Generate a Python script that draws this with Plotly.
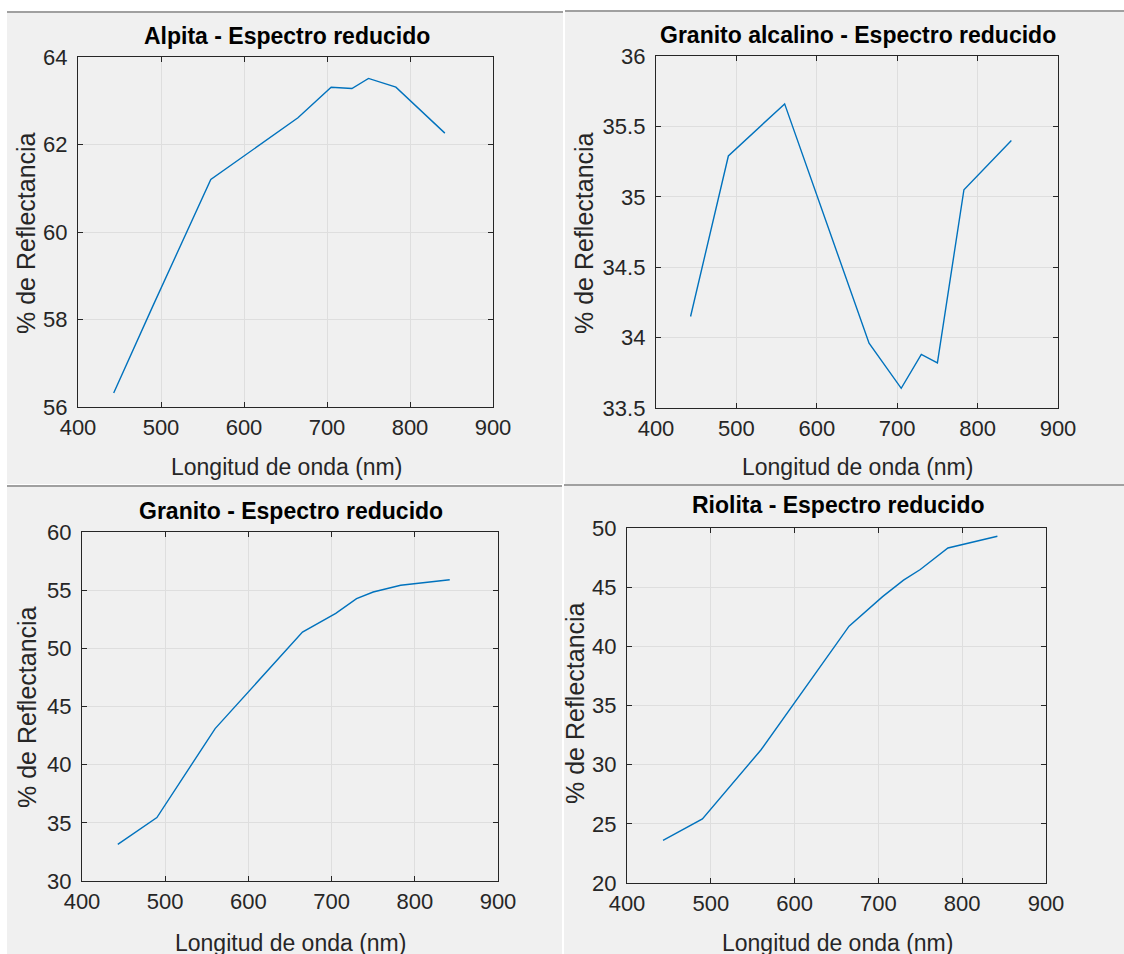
import plotly.graph_objects as go

W, H = 1124, 954
OFF = 0  # body margin is removed by the post script below

# ---- data ----
wavelength = [443, 490, 560, 665, 705, 730, 750, 783, 842]
alpita = [56.32, 58.3, 61.2, 62.61, 63.31, 63.28, 63.51, 63.31, 62.26]
granito_alcalino = [34.15, 35.29, 35.66, 33.96, 33.64, 33.88, 33.82, 35.05, 35.40]
granito = [33.15, 35.45, 43.1, 51.4, 53.0, 54.27, 54.84, 55.42, 55.9]
riolita = [23.6, 25.41, 31.26, 41.71, 44.2, 45.59, 46.49, 48.31, 49.3]

titles = ["Alpita - Espectro reducido", "Granito alcalino - Espectro reducido",
          "Granito - Espectro reducido", "Riolita - Espectro reducido"]
xlabel = "Longitud de onda (nm)"
ylabel = "% de Reflectancia"
x_ticks = [400, 500, 600, 700, 800, 900]
y_ticks = [
    [56, 58, 60, 62, 64],
    [33.5, 34, 34.5, 35, 35.5, 36],
    [30, 35, 40, 45, 50, 55, 60],
    [20, 25, 30, 35, 40, 45, 50],
]
series = [alpita, granito_alcalino, granito, riolita]

# ---- layout geometry (pixels in the window) ----
plot_boxes = [  # left, right, top, bottom
    (78, 493, 57, 407),
    (656, 1058, 56, 408),
    (82, 498, 532, 881),
    (627, 1046, 528, 883),
]
panels = [  # x0, x1, y0, y1
    (7, 563, 12, 484),
    (565, 1124, 11, 485),
    (7, 562, 486, 954),
    (564, 1124, 485, 954),
]
title_pos = [(287, 36), (858, 35), (291, 511), (838, 505)]
xlab_pos = [(286, 467), (857, 467), (290, 943), (837, 943)]
ylab_pos = [(26, 233), (584, 233), (27, 707), (575, 703)]

def px(x):
    return (x - OFF) / W

def py(y):
    return 1 - (y - OFF) / H

fig = go.Figure()
FONT = "Liberation Sans, Arial, sans-serif"
AX = "#262626"

shapes = []
for (x0, x1, y0, y1) in panels:
    shapes.append(dict(type="rect", xref="paper", yref="paper",
                       x0=px(x0), x1=px(x1), y0=py(y1), y1=py(y0),
                       fillcolor="#f0f0f0", line=dict(width=0), layer="below"))
    shapes.append(dict(type="line", xref="paper", yref="paper",
                       x0=px(x0), x1=px(x1), y0=py(y0), y1=py(y0),
                       line=dict(color="#a0a0a0", width=2), layer="below"))

annotations = []
layout_axes = {}
for i in range(4):
    n = "" if i == 0 else str(i + 1)
    l, r, t, b = plot_boxes[i]
    fig.add_trace(go.Scatter(x=wavelength, y=series[i], mode="lines",
                             line=dict(color="#0072BD", width=1.4),
                             xaxis="x" + n, yaxis="y" + n, showlegend=False))
    common = dict(showline=True, linecolor=AX, linewidth=1.4, mirror="ticks",
                  ticks="inside", ticklen=5, tickcolor=AX, showgrid=True,
                  gridcolor="#dedede", gridwidth=1, zeroline=False, automargin=False,
                  tickfont=dict(family=FONT, size=22, color=AX))
    layout_axes["xaxis" + n] = dict(common, domain=[px(l), px(r)], range=[400, 900],
                                    tickvals=x_ticks, anchor="y" + n)
    yt = y_ticks[i]
    layout_axes["yaxis" + n] = dict(common, domain=[py(b), py(t)], range=[yt[0], yt[-1]],
                                    tickvals=yt, anchor="x" + n, ticklabelstandoff=5,
                                    ticktext=[("%g" % v) for v in yt])
    annotations.append(dict(text="<b>" + titles[i] + "</b>", xref="paper", yref="paper",
                            x=px(title_pos[i][0]), y=py(title_pos[i][1]), showarrow=False,
                            xanchor="center", yanchor="middle",
                            font=dict(family=FONT, size=23, color="#000000")))
    annotations.append(dict(text=xlabel, xref="paper", yref="paper",
                            x=px(xlab_pos[i][0]), y=py(xlab_pos[i][1]), showarrow=False,
                            xanchor="center", yanchor="middle",
                            font=dict(family=FONT, size=23, color=AX)))
    annotations.append(dict(text=ylabel, xref="paper", yref="paper", textangle=-90,
                            x=px(ylab_pos[i][0]), y=py(ylab_pos[i][1]), showarrow=False,
                            xanchor="center", yanchor="middle",
                            font=dict(family=FONT, size=25, color=AX)))

fig.update_layout(width=W, height=H, margin=dict(l=0, r=0, t=0, b=0, autoexpand=False),
                  paper_bgcolor="#ffffff", plot_bgcolor="#ffffff",
                  shapes=shapes, annotations=annotations, **layout_axes)

fig.write_html("out.html", config={"displayModeBar": False},
               post_script="document.body.style.margin='0';"
                           "document.body.style.overflow='hidden';"
                           "document.documentElement.style.overflow='hidden';")
